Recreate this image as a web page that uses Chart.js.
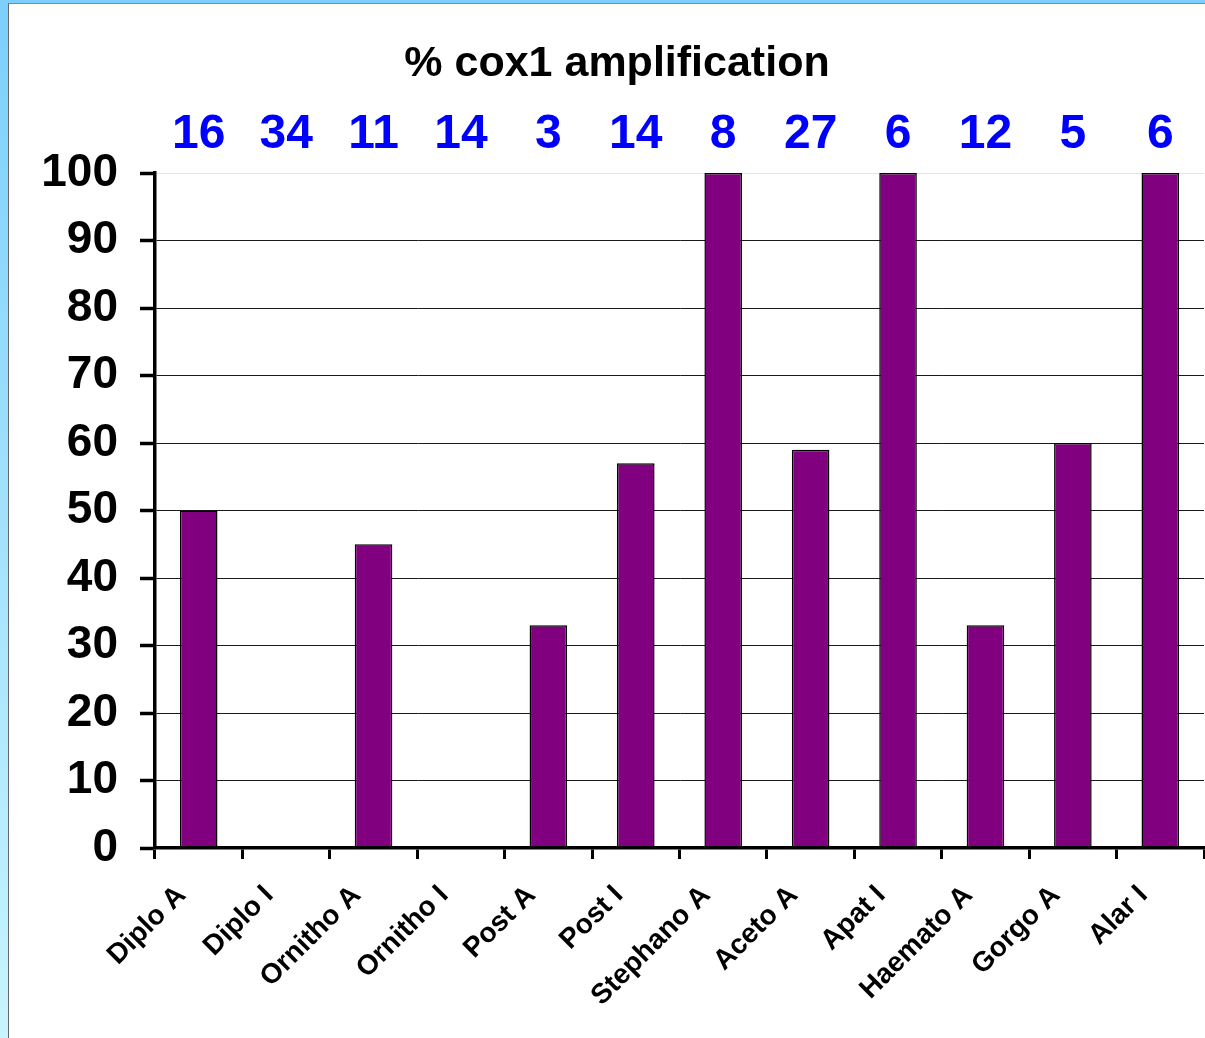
<!DOCTYPE html>
<html>
<head>
<meta charset="utf-8">
<title>% cox1 amplification</title>
<script src="https://cdn.jsdelivr.net/npm/chart.js@4.4.1/dist/chart.umd.min.js"></script>
<style>
  html, body { margin: 0; padding: 0; }
  body {
    width: 1205px; height: 1038px; overflow: hidden; position: relative;
    background: linear-gradient(to bottom, #7ccffb, #c8f4fe);
  }
  #panel {
    position: absolute; left: 8px; top: 3px;
    width: 1196px; height: 1034px;
    background: #fff;
    border-left: 1px solid #666; border-top: 1px solid #888;
  }
  canvas { display: block; }
</style>
</head>
<body>
<div id="panel"><canvas id="chart" width="1196" height="1034"></canvas></div>
<script>
// Taxa (A / I groups) along the x axis
const categories = [
  'Diplo A', 'Diplo I', 'Ornitho A', 'Ornitho I', 'Post A', 'Post I',
  'Stephano A', 'Aceto A', 'Apat I', 'Haemato A', 'Gorgo A', 'Alar I'
];
// Percentage of samples with cox1 amplification
const amplificationPct = [50, 0, 45, 0, 33, 57, 100, 59, 100, 33, 60, 100];
// Number of samples per taxon, shown above the plot
const sampleCounts = [16, 34, 11, 14, 3, 14, 8, 27, 6, 12, 5, 6];

const TITLE = '% cox1 amplification';
const FONT = "'Liberation Sans', Arial, Helvetica, sans-serif";

// Chart heading plus the blue sample counts above each category
const headerText = {
  id: 'headerText',
  afterDraw(chart) {
    const { ctx, chartArea, scales } = chart;
    ctx.save();
    ctx.textAlign = 'center';
    ctx.textBaseline = 'middle';
    ctx.fillStyle = '#000';
    ctx.font = 'bold 43px ' + FONT;
    ctx.fillText(TITLE, chart.width / 2 + 10, 60);
    ctx.font = 'bold 48px ' + FONT;
    ctx.fillStyle = '#0000ff';
    sampleCounts.forEach((n, i) => {
      ctx.fillText(String(n), scales.x.getPixelForValue(i), chartArea.top - 38);
    });
    ctx.restore();
  }
};

new Chart(document.getElementById('chart'), {
  type: 'bar',
  data: {
    labels: categories,
    datasets: [{
      label: TITLE,
      data: amplificationPct,
      backgroundColor: '#800080',
      borderColor: '#000000',
      borderWidth: 1.5,
      borderSkipped: false,
      categoryPercentage: 1,
      barPercentage: 0.43
    }]
  },
  options: {
    responsive: false,
    animation: false,
    layout: { padding: { left: 0, right: 1, top: 169, bottom: 0 } },
    plugins: {
      legend: { display: false },
      tooltip: { enabled: false },
      title: { display: false }
    },
    scales: {
      x: {
        grid: {
          offset: true,
          drawOnChartArea: false,
          drawTicks: true,
          tickLength: 11,
          tickWidth: 3,
          tickColor: '#000'
        },
        border: { display: true, color: '#000', width: 3.5 },
        ticks: {
          color: '#000',
          font: { family: FONT, size: 28, weight: 'bold' },
          minRotation: 45,
          maxRotation: 45,
          autoSkip: false,
          padding: 20,
          labelOffset: -17
        },
        afterFit(scale) {
          scale.height = 190;
          scale.paddingLeft = 0;
          scale.paddingRight = 0;
        }
      },
      y: {
        min: 0,
        max: 100,
        ticks: {
          stepSize: 10,
          color: '#000',
          font: { family: FONT, size: 46, weight: 'bold' },
          padding: 22
        },
        grid: {
          color: (c) => (c.tick && c.tick.value === 100 ? '#e4e4e4' : '#1a1a1a'),
          lineWidth: 1,
          tickLength: 15,
          tickWidth: 3.5,
          tickColor: '#000'
        },
        border: { display: true, color: '#000', width: 3.5 },
        afterFit(scale) {
          scale.width = 146;
          scale.paddingTop = 0;
          scale.paddingBottom = 0;
        }
      }
    }
  },
  plugins: [headerText]
});
</script>
</body>
</html>
